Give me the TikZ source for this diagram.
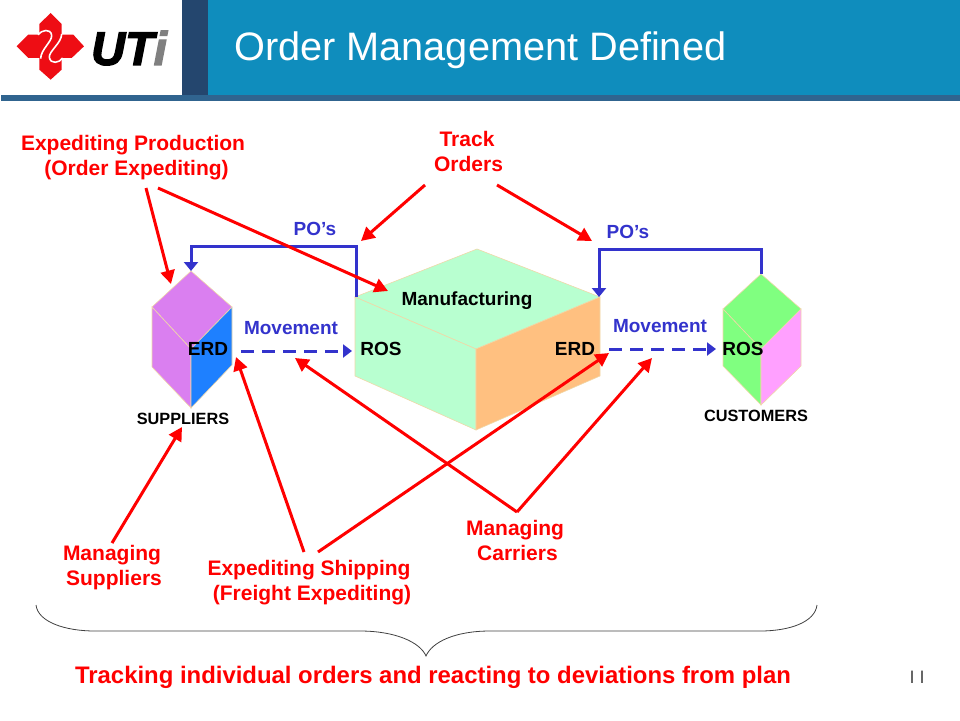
\documentclass[tikz,border=0pt]{standalone}
\usepackage{fontspec}
\setmainfont{Liberation Sans}
\newfontfamily\logofont[BoldItalicFeatures={FakeBold=3}]{Liberation Sans}
\usetikzlibrary{arrows.meta}
\definecolor{barblue}{HTML}{0F8DBD}
\definecolor{darkblue}{HTML}{24466E}
\definecolor{stripblue}{HTML}{30648F}
\definecolor{poblue}{HTML}{3333CC}
\definecolor{edgetan}{HTML}{F0D8A8}
\definecolor{logored}{HTML}{EE0D14}
\definecolor{supviolet}{HTML}{DA7FF0}
\definecolor{supblue}{HTML}{1E80FF}
\definecolor{cusgreen}{HTML}{80FF80}
\definecolor{cuspink}{HTML}{FFA0FF}
\definecolor{mfgmint}{HTML}{B8FFD0}
\definecolor{mfgorange}{HTML}{FFC080}
\tikzset{
  redlabel/.style={text=red,font=\fontsize{21}{25}\selectfont\bfseries,align=center,inner sep=0pt},
  bluelabel/.style={text=poblue,font=\fontsize{19}{22}\selectfont\bfseries,inner sep=0pt},
  blacklabel/.style={font=\fontsize{19}{22}\selectfont\bfseries,inner sep=0pt},
  smalllabel/.style={font=\fontsize{16.3}{18}\selectfont\bfseries,inner sep=0pt},
  redarrow/.style={draw=red,line width=3pt,-{Triangle[length=13.5pt,width=14pt]}},
  poarrow/.style={draw=poblue,line width=3pt,-{Triangle[length=9pt,width=14pt]}},
  movearrow/.style={draw=poblue,line width=3pt,dash pattern=on 13pt off 8pt,-{Triangle[length=9pt,width=13pt]}},
  face/.style={draw=edgetan,line width=0.6pt}
}
\begin{document}
\begin{tikzpicture}[x=1pt,y=-1pt]
\useasboundingbox (0,0) rectangle (960,720);
% header
\fill[barblue] (208,0) rectangle (960,96);
\fill[darkblue] (182,0) rectangle (208,96);
\fill[stripblue] (1,95) rectangle (960,101);
\node[text=white,font=\fontsize{39.7}{44}\selectfont,anchor=west,inner sep=0pt] (title) at (234,50) {Order Management Defined};
% logo
\begin{scope}[shift={(10,8)},x=0.3333pt,y=-0.3333pt]
\fill[logored] (122,15) -- (155,48) -- (155,80) -- (190,80) -- (222,115) -- (185,150) -- (155,150) -- (155,185) -- (122,215) -- (88,185) -- (88,150) -- (55,150) -- (20,115) -- (55,80) -- (88,80) -- (88,48) -- cycle;
\draw[white,line width=1.6pt] (84,80) .. controls (95,66) and (122,60) .. (125,82) .. controls (127,100) and (92,125) .. (92,152);
\draw[white,line width=1.6pt] (158,150) .. controls (148,165) and (122,170) .. (118,148) .. controls (116,130) and (155,105) .. (155,78);
\end{scope}
\node[font=\logofont\fontsize{47}{47}\selectfont\bfseries\itshape,inner sep=0pt,anchor=west] (logotext) at (91,48) {UT\textcolor{gray}{i}};
% suppliers
\fill[face,fill=supviolet] (191,271) -- (232,307) -- (191,349) -- (152,307) -- cycle;
\fill[face,fill=supviolet] (152,307) -- (191,349) -- (191,408) -- (152,367) -- cycle;
\fill[face,fill=supblue] (232,307) -- (191,349) -- (191,408) -- (232,365) -- cycle;
% customers
\fill[face,fill=cusgreen] (761,274) -- (801,309) -- (761,349) -- (723,309) -- cycle;
\fill[face,fill=cusgreen] (723,309) -- (761,349) -- (761,405) -- (723,366) -- cycle;
\fill[face,fill=cuspink] (801,309) -- (761,349) -- (761,405) -- (801,366) -- cycle;
% manufacturing
\fill[face,fill=mfgmint] (477,249) -- (600,297) -- (476,349) -- (355,297) -- cycle;
\fill[face,fill=mfgmint] (355,297) -- (476,349) -- (476,430) -- (355,376) -- cycle;
\fill[face,fill=mfgorange] (600,297) -- (476,349) -- (476,430) -- (600,376) -- cycle;

\coordinate (supplierstop) at (191,271);
\coordinate (customerstop) at (761,274);
\coordinate (mfgleft) at (356,297);
\coordinate (mfgright) at (599,297);
\coordinate (moveleftstart) at (241,351);
\coordinate (moveleftend) at (352,351);
\coordinate (moverightstart) at (609,349);
\coordinate (moverightend) at (716,349);

\node[blacklabel] (mfg) at (467,301) {Manufacturing};
\node[blacklabel] (erdleft) at (208,349) {ERD};
\node[blacklabel] (rosleft) at (381,349) {ROS};
\node[blacklabel] (erdright) at (575,349) {ERD};
\node[blacklabel] (rosright) at (743,349) {ROS};
\node[smalllabel] (suppliers) at (183,419) {SUPPLIERS};
\node[smalllabel] (customers) at (756,416) {CUSTOMERS};
\node[bluelabel] (poleft) at (315,229) {PO’s};
\node[bluelabel] (poright) at (628,232) {PO’s};
\node[bluelabel] (moveleft) at (291,328) {Movement};
\node[bluelabel] (moveright) at (660,326) {Movement};

\node[redlabel] (expprod) at (133,158) {Expediting Production\\\hspace*{7pt}(Order Expediting)};
\node[redlabel] (track) at (467,151) {Track\\\hspace*{3pt}Orders};
\node[redlabel] (mansup) at (112,568) {Managing\\\hspace*{4pt}Suppliers};
\node[redlabel] (expship) at (309,583) {Expediting Shipping\\\hspace*{6pt}(Freight Expediting)};
\node[redlabel] (mancar) at (515,540) {Managing\\\hspace*{5pt}Carriers};
\node[redlabel,font=\fontsize{23.9}{28}\selectfont\bfseries] (tracking) at (433,677) {Tracking individual orders and reacting to deviations from plan};
\node[text=black!70,font=\fontsize{18}{20}\selectfont,inner sep=0pt] (pagenum) at (917,677) {I I};

% PO lines
\draw[poarrow] (mfgleft) -- (356,246) -- (191,246) -- (supplierstop);
\draw[poarrow] (customerstop) -- (761,249) -- (599,249) -- (mfgright);
% movement
\draw[movearrow] (moveleftstart) -- (moveleftend);
\draw[movearrow] (moverightstart) -- (moverightend);
% red arrows
\draw[redarrow] (146,188) -- (171,284);
\draw[redarrow] (158,188) -- (388,291);
\draw[redarrow] (425,185) -- (361,241);
\draw[redarrow] (497,185) -- (592,241);
\draw[redarrow] (112,543) -- (182,427);
\draw[redarrow] (304,552) -- (236,357);
\draw[redarrow] (318,552) -- (609,353);
\draw[redarrow] (517,512) -- (295,358);
\draw[redarrow] (517,512) -- (652,358);
% brace
\draw[black!75,line width=0.8pt] (36,605) .. controls (38,622) and (65,631) .. (95,631) -- (360,631) .. controls (395,631) and (420,642) .. (426,656) .. controls (432,642) and (455,631) .. (490,631) -- (760,631) .. controls (790,631) and (815,622) .. (817,605);
\end{tikzpicture}
\end{document}
